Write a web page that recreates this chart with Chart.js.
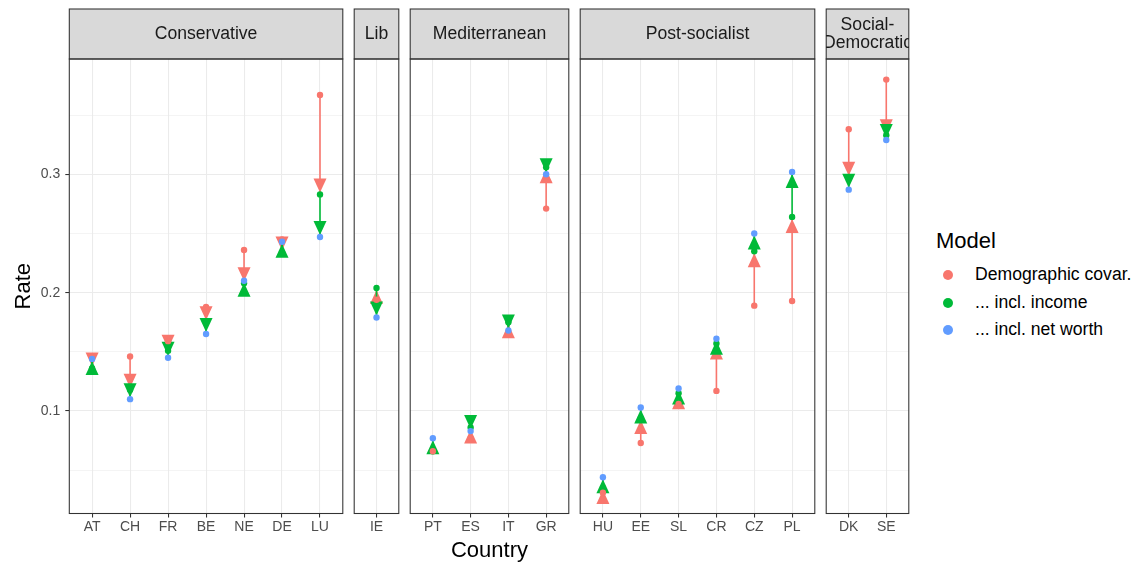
<!DOCTYPE html>
<html><head><meta charset="utf-8">
<script src="https://cdn.jsdelivr.net/npm/chart.js@4.4.1/dist/chart.umd.min.js"></script>
<style>
html,body{margin:0;padding:0;background:#fff;}
#wrap{position:relative;width:1137px;height:566px;overflow:hidden;font-family:"Liberation Sans",Arial,sans-serif;}
canvas{position:absolute;top:0;}
.lg{position:absolute;line-height:1;transform:translateY(-50%);white-space:nowrap;color:#000;}
.dot{position:absolute;width:10px;height:10px;border-radius:50%;transform:translate(-50%,-50%);}
</style></head><body><div id="wrap"></div>
<script>
// ---- data ----
const facetNames = ["Conservative","Lib","Mediterranean","Post-socialist","Social-\nDemocratic"];
const countries = ["AT","CH","FR","BE","NE","DE","LU","IE","PT","ES","IT","GR","HU","EE","SL","CR","CZ","PL","DK","SE"];
const regime = ["Conservative","Conservative","Conservative","Conservative","Conservative","Conservative","Conservative",
  "Lib","Mediterranean","Mediterranean","Mediterranean","Mediterranean",
  "Post-socialist","Post-socialist","Post-socialist","Post-socialist","Post-socialist","Post-socialist",
  "Social-\nDemocratic","Social-\nDemocratic"];
const demographic = [0.145,0.146,0.159,0.188,0.236,0.245,0.367, 0.194, 0.066,0.077,0.165,0.271, 0.031,0.073,0.106,0.117,0.189,0.193, 0.338,0.380];
const income      = [0.136,0.118,0.151,0.175,0.208,0.234,0.283, 0.204, 0.066,0.086,0.175,0.306, 0.035,0.094,0.115,0.157,0.235,0.264, 0.297,0.333];
const netWorth    = [0.144,0.110,0.145,0.165,0.210,0.243,0.247, 0.179, 0.077,0.083,0.168,0.300, 0.044,0.103,0.119,0.161,0.250,0.302, 0.287,0.329];
const models = ["Demographic covar.","... incl. income","... incl. net worth"];
const modelColors = ["#F8766D","#00BA38","#619CFF"];
const yMajor = [0.1,0.2,0.3];
const yMinor = [0.05,0.15,0.25,0.35];
const yRange = [0.0134, 0.3974];

// ---- layout ----
const FONT = '"Liberation Sans", Arial, sans-serif';
const W = 1137, H = 566;
const panelTop = 59, panelBottom = 513.5, stripTop = 9;
const unitPx = 38.09, gap = 10, expand = 0.6;
const series = [demographic, income, netWorth];
const drawOrder = [2, 3, 1]; // green below red, blue on top
const isMajor = v => yMajor.some(m => Math.abs(m - v) < 1e-9);
const wrap = document.getElementById('wrap');

let left = 69.3;
facetNames.forEach((name, f) => {
  const idx = countries.map((c, i) => i).filter(i => regime[i] === name);
  const n = idx.length;
  const w = (n - 1 + 2 * expand) * unitPx;
  const first = f === 0;
  const cLeft = first ? 0 : Math.floor(left) - 2;
  const cRight = Math.ceil(left + w) + 2;
  const cw = cRight - cLeft;
  const pLeft = left;
  const canvas = document.createElement('canvas');
  canvas.width = cw; canvas.height = H;
  canvas.style.left = cLeft + 'px';
  canvas.style.width = cw + 'px'; canvas.style.height = H + 'px';
  wrap.appendChild(canvas);

  const arrows = {
    id: 'arrows' + f,
    beforeDatasetsDraw(chart) {
      const xs = chart.scales.x, ys = chart.scales.y, ctx = chart.ctx, a = chart.chartArea;
      ctx.save();
      ctx.beginPath(); ctx.rect(a.left, a.top, a.right - a.left, a.bottom - a.top); ctx.clip();
      [[0, 1], [1, 2]].forEach(([from, to]) => {
        const col = modelColors[from];
        idx.forEach((i, k) => {
          const x = xs.getPixelForValue(k);
          const y0 = ys.getPixelForValue(series[from][i]);
          const y1 = ys.getPixelForValue(series[to][i]);
          const dir = Math.sign(y1 - y0);
          if (!dir) return;
          const tip = y1 - dir * 2, base = tip - dir * 14;
          ctx.strokeStyle = col; ctx.lineWidth = 1.6;
          ctx.beginPath(); ctx.moveTo(x, y0); ctx.lineTo(x, tip); ctx.stroke();
          ctx.fillStyle = col;
          ctx.beginPath(); ctx.moveTo(x, tip); ctx.lineTo(x - 6.5, base); ctx.lineTo(x + 6.5, base); ctx.closePath(); ctx.fill();
        });
      });
      ctx.restore();
    }
  };
  const frame = {
    id: 'frame' + f,
    afterDraw(chart) {
      const ctx = chart.ctx, a = chart.chartArea;
      const sw = a.right - a.left;
      ctx.save();
      ctx.fillStyle = '#D9D9D9';
      ctx.fillRect(a.left, stripTop, sw, a.top - stripTop);
      ctx.strokeStyle = '#333333'; ctx.lineWidth = 1.07;
      ctx.strokeRect(a.left, stripTop, sw, a.top - stripTop);
      ctx.save();
      ctx.beginPath(); ctx.rect(a.left, stripTop, sw, a.top - stripTop); ctx.clip();
      ctx.fillStyle = '#1A1A1A'; ctx.font = '17.6px ' + FONT;
      ctx.textAlign = 'center'; ctx.textBaseline = 'middle';
      const lines = name.split('\n');
      const lh = 17.5, mid = (stripTop + a.top) / 2;
      lines.forEach((t, j) => ctx.fillText(t, (a.left + a.right) / 2, mid + (j - (lines.length - 1) / 2) * lh));
      ctx.restore();
      ctx.strokeRect(a.left, a.top, sw, a.bottom - a.top);
      ctx.restore();
    }
  };

  new Chart(canvas, {
    type: 'scatter',
    data: {
      datasets: models.map((m, s) => ({
        label: m,
        data: idx.map((i, k) => ({ x: k, y: series[s][i] })),
        backgroundColor: modelColors[s],
        borderColor: modelColors[s],
        pointRadius: 3.2, pointBorderWidth: 0, pointHoverRadius: 3.2,
        showLine: false,
        order: drawOrder[s]
      }))
    },
    options: {
      responsive: false, animation: false, devicePixelRatio: 1,
      layout: { padding: { left: first ? 0 : pLeft - cLeft, right: cRight - (pLeft + w), top: panelTop, bottom: 0 } },
      plugins: { legend: { display: false }, tooltip: { enabled: false } },
      events: [],
      scales: {
        x: {
          type: 'linear', min: -expand, max: n - 1 + expand, bounds: 'data',
          afterBuildTicks: s => { s.ticks = idx.map((_, k) => ({ value: k })); },
          afterFit: s => { s.height = H - panelBottom; },
          grid: { color: '#EBEBEB', lineWidth: 1.07, drawTicks: true, tickLength: 4, tickColor: '#333333', tickWidth: 1.07 },
          border: { display: false },
          ticks: { color: '#4D4D4D', font: { size: 14, family: FONT }, padding: 1, autoSkip: false, maxRotation: 0,
                   callback: (v, k) => countries[idx[k]] },
          title: { display: f === 2, text: 'Country', color: '#000', font: { size: 22, family: FONT }, padding: { top: 0, bottom: 2 } }
        },
        y: {
          type: 'linear', min: yRange[0], max: yRange[1], bounds: 'data',
          afterBuildTicks: s => { s.ticks = yMinor.concat(yMajor).sort((a, b) => a - b).map(v => ({ value: v })); },
          afterFit: s => { s.width = first ? pLeft : 0; },
          grid: { color: '#EBEBEB', lineWidth: c => (c.tick && isMajor(c.tick.value)) ? 1.07 : 0.53,
                  drawTicks: first, tickLength: 4,
                  tickColor: c => (c.tick && isMajor(c.tick.value)) ? '#333333' : 'rgba(0,0,0,0)', tickWidth: 1.07 },
          border: { display: false },
          ticks: { display: first, color: '#4D4D4D', font: { size: 14, family: FONT }, padding: 5,
                   callback: v => isMajor(v) ? v.toFixed(1) : '' },
          title: { display: first, text: 'Rate', color: '#000', font: { size: 22, family: FONT }, padding: { top: 10.8, bottom: 0 } }
        }
      }
    },
    plugins: [arrows, frame]
  });
  left += w + gap;
});

// ---- legend ----
const legendTop = [275.3, 302.8, 330.3];
const t = document.createElement('div');
t.className = 'lg'; t.textContent = 'Model';
t.style.left = '936px'; t.style.top = '241px'; t.style.fontSize = '22px';
wrap.appendChild(t);
models.forEach((m, k) => {
  const d = document.createElement('div');
  d.className = 'dot'; d.style.background = modelColors[k];
  d.style.left = '947.7px'; d.style.top = legendTop[k] + 'px';
  wrap.appendChild(d);
  const l = document.createElement('div');
  l.className = 'lg'; l.textContent = m;
  l.style.left = '975px'; l.style.top = legendTop[k] + 'px'; l.style.fontSize = '17.6px';
  wrap.appendChild(l);
});
</script></body></html>
